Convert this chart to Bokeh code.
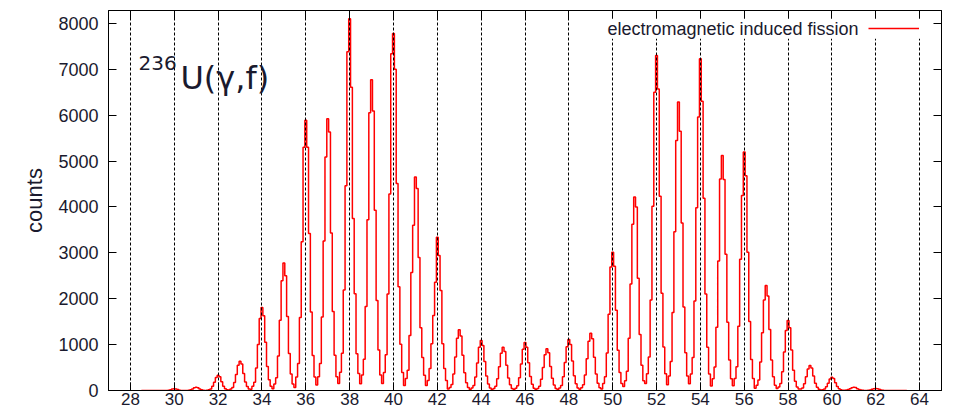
import numpy as np
from bokeh.plotting import figure
from bokeh.models import (Range1d, FixedTicker, LinearAxis, Label, Legend,
                          LegendItem, CustomLabelingPolicy)
from bokeh.embed import file_html
from bokeh.resources import INLINE

# Fragment charge Z, one row of histogram counts per Z (12 bins per unit of Z,
# bin centres from Z-6/12 to Z+5/12).
charges = list(range(29, 64))
counts_by_charge = [
    [0, 0, 0, 0, 0, 0, 0, 0, 0, 0, 0, 0],                           # 29
    [0, 0, 0, 5, 15, 30, 40, 35, 20, 5, 0, 0],                      # 30
    [0, 0, 5, 15, 35, 60, 70, 60, 35, 15, 5, 0],                    # 31
    [5, 15, 35, 90, 180, 285, 330, 300, 190, 95, 40, 15],           # 32
    [10, 30, 65, 175, 350, 550, 640, 575, 370, 185, 85, 30],        # 33
    [25, 90, 180, 490, 1000, 1570, 1810, 1630, 1050, 525, 235, 90], # 34
    [40, 140, 280, 750, 1530, 2390, 2780, 2500, 1610, 805, 360, 140],
    [65, 295, 590, 1590, 3240, 5300, 5890, 5300, 3420, 1710, 765, 295],
    [120, 300, 590, 1600, 3260, 5090, 5920, 5630, 3430, 1720, 770, 300],
    [150, 400, 810, 2190, 4460, 7380, 8100, 6610, 3750, 2110, 800, 370],
    [145, 340, 680, 1830, 3720, 6050, 6770, 6090, 3930, 1960, 880, 340],
    [150, 390, 780, 2100, 4280, 7340, 7780, 7000, 4510, 2260, 1010, 390],
    [110, 260, 440, 1200, 2570, 3600, 4650, 4400, 2900, 1370, 720, 330],
    [110, 220, 480, 1020, 1635, 2360, 3340, 2940, 2180, 1020, 480, 220],
    [30, 65, 130, 360, 730, 1140, 1325, 1190, 770, 385, 170, 65],   # 43
    [20, 55, 110, 295, 600, 940, 1090, 980, 630, 315, 140, 55],     # 44
    [20, 45, 95, 255, 520, 810, 945, 850, 550, 275, 125, 45],       # 45
    [20, 50, 105, 280, 575, 900, 1045, 940, 605, 305, 135, 50],     # 46
    [20, 45, 90, 245, 500, 780, 908, 820, 525, 265, 120, 45],       # 47
    [20, 55, 110, 300, 610, 955, 1110, 1000, 645, 320, 145, 55],    # 48
    [25, 60, 125, 340, 690, 1075, 1250, 1125, 725, 360, 160, 60],   # 49
    [30, 150, 300, 815, 1660, 2690, 3015, 2710, 1750, 875, 390, 150],
    [85, 210, 420, 1140, 2320, 3625, 4215, 4000, 2445, 1220, 550, 210],
    [150, 365, 730, 1970, 4015, 6500, 7300, 6570, 4230, 2120, 950, 365],
    [125, 315, 630, 1700, 3460, 5450, 6285, 5650, 3650, 1820, 820, 315],
    [145, 360, 720, 1950, 3980, 5960, 7230, 6300, 4190, 2100, 940, 360],
    [100, 255, 510, 1380, 2820, 4610, 5120, 4600, 2970, 1485, 665, 255],
    [105, 260, 520, 1400, 2860, 4250, 5195, 4680, 3010, 1505, 675, 260],
    [50, 115, 230, 620, 1260, 1970, 2290, 2060, 1330, 665, 300, 115],
    [45, 75, 150, 410, 840, 1310, 1526, 1370, 885, 440, 200, 75],   # 58
    [30, 30, 55, 145, 300, 470, 545, 490, 315, 160, 70, 25],        # 59
    [10, 15, 30, 80, 160, 250, 290, 260, 170, 85, 40, 15],          # 60
    [5, 5, 10, 20, 40, 60, 72, 65, 40, 20, 10, 5],                  # 61
    [0, 0, 5, 10, 25, 40, 45, 40, 25, 10, 5, 0],                    # 62
    [0, 0, 0, 0, 0, 0, 0, 0, 0, 0, 0, 0],                           # 63
]
bins_per_charge = 12

x_ticks = list(range(28, 65, 2))
y_ticks = list(range(0, 8001, 1000))

series_label = "electromagnetic induced fission"
y_title = "counts"

# bin centres
offsets = (np.arange(bins_per_charge) - bins_per_charge // 2) / bins_per_charge
z_bins = (np.array(charges, dtype=float)[:, None] + offsets[None, :]).ravel()
counts = np.array(counts_by_charge, dtype=float).ravel()

FONT = "Liberation Sans"
TEXT = "#1a1a2e"

p = figure(width=953, height=412, output_backend="svg", toolbar_location=None,
           x_range=Range1d(27, 65), y_range=Range1d(0, 8280),
           min_border_left=108, min_border_right=12,
           min_border_top=10, min_border_bottom=22)
p.background_fill_color = "white"
p.border_fill_color = "white"
p.outline_line_color = "black"
p.outline_line_width = 1

hist = p.step(z_bins, counts, mode="center", line_color="#ff0000",
              line_width=1.5)
hist.level = "underlay"

# axes
for ax in (p.xaxis[0], p.yaxis[0]):
    ax.major_tick_in = 8
    ax.major_tick_out = 0
    ax.minor_tick_in = 0
    ax.minor_tick_out = 0
    ax.axis_line_color = "black"
    ax.major_tick_line_color = "black"
    ax.major_label_text_font = FONT
    ax.major_label_text_color = TEXT
p.xaxis.ticker = FixedTicker(ticks=x_ticks)
p.yaxis.ticker = FixedTicker(ticks=y_ticks)
p.xaxis.major_label_text_font_size = "17px"
p.yaxis.major_label_text_font_size = "18px"
p.xaxis.major_label_standoff = 2
p.yaxis.major_label_standoff = 10
p.yaxis.axis_label = y_title
p.yaxis.axis_label_text_font = FONT
p.yaxis.axis_label_text_font_size = "22px"
p.yaxis.axis_label_text_font_style = "normal"
p.yaxis.axis_label_text_color = TEXT
p.yaxis.axis_label_standoff = 8

# mirrored ticks (no labels) on the top and right frame edges
no_labels = CustomLabelingPolicy(code="return []")
top = LinearAxis(ticker=FixedTicker(ticks=x_ticks), major_label_policy=no_labels)
right = LinearAxis(ticker=FixedTicker(ticks=y_ticks), major_label_policy=no_labels)
for ax in (top, right):
    ax.major_tick_in = 8
    ax.major_tick_out = 0
    ax.minor_tick_in = 0
    ax.minor_tick_out = 0
    ax.major_label_standoff = 0
    ax.major_label_text_font_size = "0px"
    ax.axis_line_color = "black"
p.add_layout(top, "above")
p.add_layout(right, "right")

# dashed vertical grid at every even Z, drawn over the histogram
p.xgrid.ticker = FixedTicker(ticks=x_ticks)
p.xgrid.grid_line_color = "black"
p.xgrid.grid_line_dash = "3 2"
p.xgrid.grid_line_width = 1
p.xgrid.level = "glyph"
p.ygrid.visible = False

# reaction label 236U(gamma,f)
p.add_layout(Label(x=28.37, y=7144, text="236", text_font="DejaVu Sans",
                   text_font_size="20px", text_color=TEXT,
                   text_align="left", text_baseline="alphabetic"))
p.add_layout(Label(x=30.28, y=6818, text="U(\u03b3,f)", text_font="DejaVu Sans",
                   text_font_size="32px", text_color=TEXT,
                   text_align="left", text_baseline="alphabetic"))

# key: text followed by the line sample, on an opaque white patch
p.add_layout(Label(x=64.5, y=7885, text=series_label, text_font=FONT,
                   text_font_size="18px", text_color=TEXT,
                   text_align="right", text_baseline="middle",
                   background_fill_color="white", background_fill_alpha=1.0,
                   padding=dict(left=6, right=72, top=0, bottom=0)))
key = Legend(items=[LegendItem(label=" ", renderers=[hist])],
             location=(760, 359), padding=0, margin=0, spacing=0,
             glyph_width=51, glyph_height=6, label_width=0, label_height=6,
             label_standoff=0, label_text_font_size="2px",
             background_fill_alpha=0, border_line_color=None)
p.add_layout(key)

open("out.html", "w").write(file_html(p, INLINE))
